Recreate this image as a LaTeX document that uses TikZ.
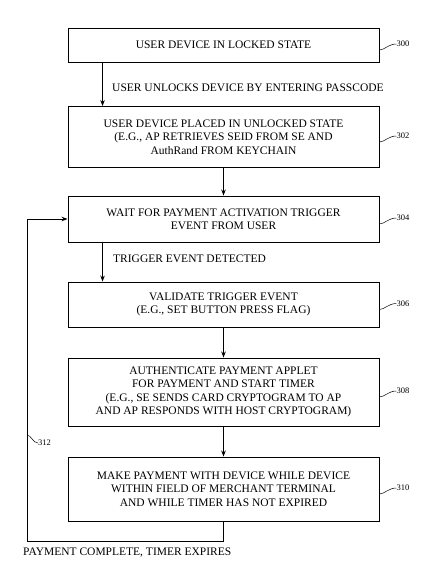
\documentclass[tikz,border=0pt]{standalone}
\usepackage{fontspec}
\setmainfont{Liberation Serif}
\usetikzlibrary{arrows.meta}
\begin{document}
\begin{tikzpicture}[x=1pt,y=-1pt,
  stepbox/.style={draw,line width=0.9pt,minimum width=311pt,align=center,inner sep=2pt,
    font=\fontsize{11.5}{13.4}\selectfont},
  arr/.style={line width=0.9pt,-{Stealth[length=6pt,width=4.5pt]}},
  ln/.style={line width=0.9pt},
  lbl/.style={font=\fontsize{11.5}{13}\selectfont,inner sep=0pt},
  refnum/.style={font=\fontsize{8.5}{9}\selectfont,inner sep=0pt,anchor=west},
  sq/.style={line width=0.5pt}]
\useasboundingbox (0,0) rectangle (432,576);
\node[stepbox,minimum height=34pt] (b300) at (223.5,45) {USER DEVICE IN LOCKED STATE};
\node[stepbox,minimum height=61pt] (b302) at (223.5,137) {USER DEVICE PLACED IN UNLOCKED STATE\\(E.G., AP RETRIEVES SEID FROM SE AND\\AuthRand FROM KEYCHAIN};
\node[stepbox,minimum height=46pt] (b304) at (223.5,219) {WAIT FOR PAYMENT ACTIVATION TRIGGER\\EVENT FROM USER};
\node[stepbox,minimum height=45pt] (b306) at (223.5,304.5) {VALIDATE TRIGGER EVENT\\(E.G., SET BUTTON PRESS FLAG)};
\node[stepbox,minimum height=68pt] (b308) at (223.5,392) {AUTHENTICATE PAYMENT APPLET\\FOR PAYMENT AND START TIMER\\(E.G., SE SENDS CARD CRYPTOGRAM TO AP\\AND AP RESPONDS WITH HOST CRYPTOGRAM)};
\node[stepbox,minimum height=64pt] (b310) at (223.5,489) {MAKE PAYMENT WITH DEVICE WHILE DEVICE\\WITHIN FIELD OF MERCHANT TERMINAL\\AND WHILE TIMER HAS NOT EXPIRED};

\draw[arr] ([xshift=35pt]b300.south west) -- ([xshift=35pt]b302.north west);
\node[lbl,anchor=west] (l1) at (112,88) {USER UNLOCKS DEVICE BY ENTERING PASSCODE};
\draw[arr] (b302.south) -- (b304.north);
\draw[arr] ([xshift=35pt]b304.south west) -- ([xshift=35pt]b306.north west);
\node[lbl,anchor=west] (l2) at (113,259) {TRIGGER EVENT DETECTED};
\draw[arr] (b306.south) -- (b308.north);
\draw[arr] (b308.south) -- (b310.north);

\coordinate (lb) at (27,541);
\draw[ln] (b310.south) |- (lb);
\draw[arr] (lb) |- (b304.west);
\node[lbl,anchor=west] (l3) at (23,553) {PAYMENT COMPLETE, TIMER EXPIRES};

\coordinate (s312) at (27,435);
\coordinate (e312) at (38,443);
\draw[sq] (s312) .. controls (31,435) and (33,443) .. (e312);
\node[refnum] (n312) at (e312) {312};

\foreach \b/\n in {b300/300,b302/302,b304/304,b306/306,b308/308,b310/310}{
  \draw[sq] ([yshift=-5pt]\b.east) .. controls ([xshift=5pt,yshift=-5pt]\b.east) and ([xshift=9pt,yshift=1pt]\b.east) .. ([xshift=17pt,yshift=1pt]\b.east) node[refnum] (r\n) {\n};
}
\end{tikzpicture}
\end{document}
